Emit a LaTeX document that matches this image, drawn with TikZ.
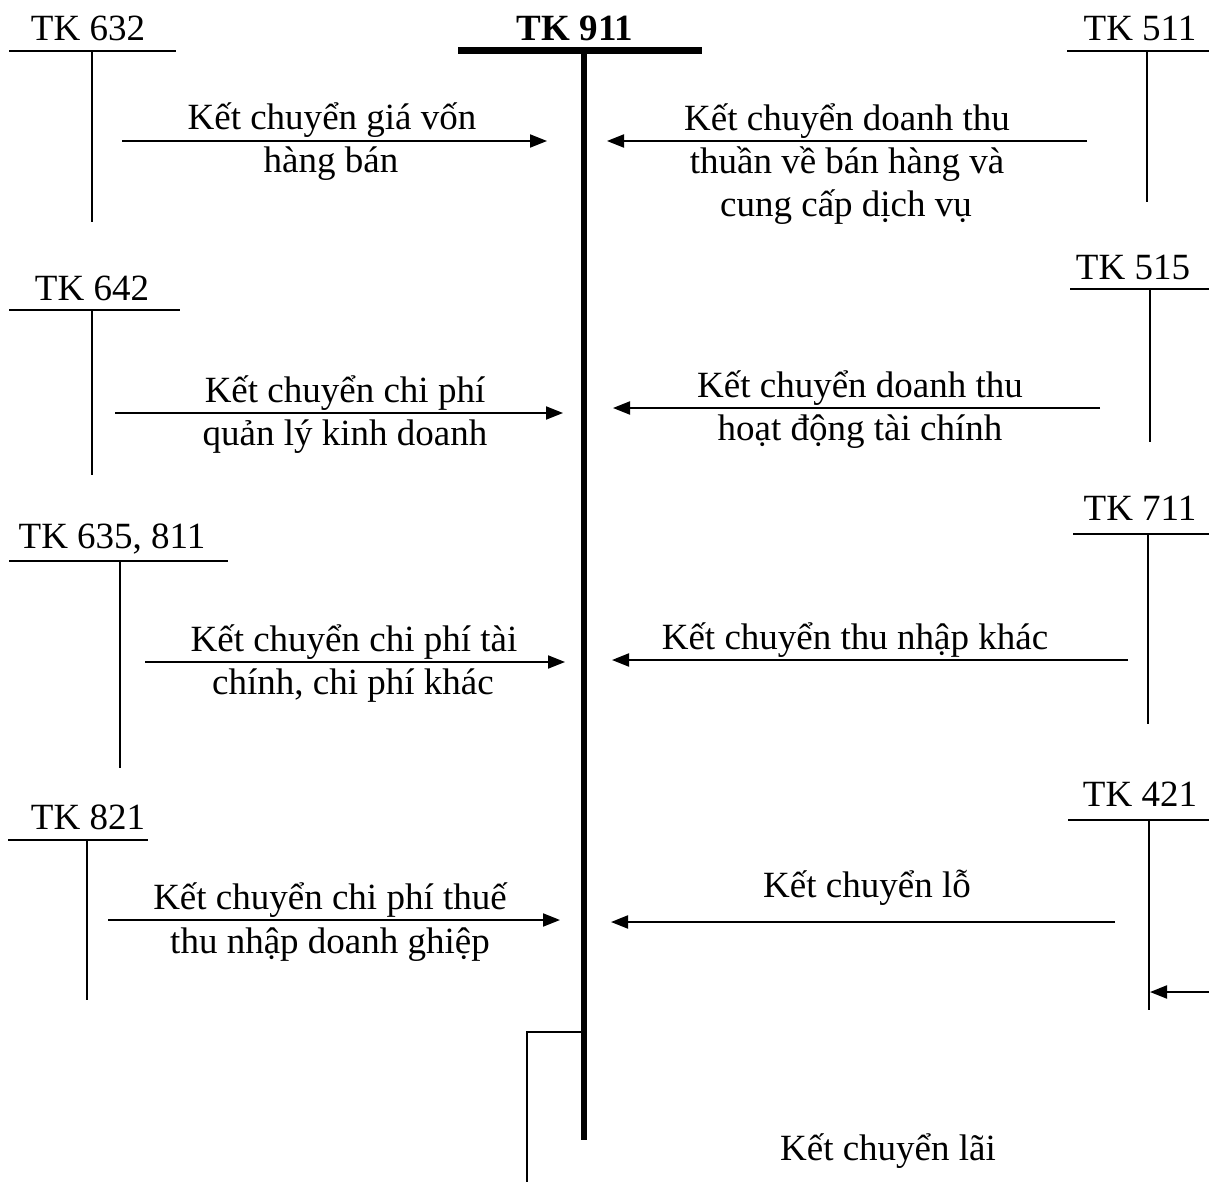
\documentclass[tikz,border=0pt]{standalone}
\usepackage{fontspec}
\setmainfont{Liberation Serif}
\usetikzlibrary{arrows.meta}
\begin{document}
\begin{tikzpicture}[x=1pt,y=-1pt,
  lbl/.style={font=\fontsize{37}{44}\selectfont, inner sep=0pt, anchor=base},
  acct/.style={line width=2pt},
  flow/.style={line width=2pt, -{Triangle[length=17pt,width=13pt]}},
  mainline/.style={line width=6.5pt}]
\useasboundingbox (0,0) rectangle (1209,1182);

% central account TK 911
\node[lbl] (t911) at (575,41) {\textbf{TK 911}};
\coordinate (m1) at (458,50.5);
\coordinate (m2) at (702,50.5);
\coordinate (mt) at (584,50.5);
\coordinate (mb) at (584,1140);
\draw[mainline] (m1) -- (m2);
\draw[mainline] (mt) -- (mb);

% T-accounts: label, top rule, vertical rule
\node[lbl] (t632) at (88,41) {TK 632};
\draw[acct] (9,51) coordinate (a1l) -- (176,51) coordinate (a1r);
\draw[acct] (92,51) coordinate (a1t) -- (92,222) coordinate (a1b);

\node[lbl] (t511) at (1140,41) {TK 511};
\draw[acct] (1067,51) coordinate (b1l) -- (1209,51) coordinate (b1r);
\draw[acct] (1147,51) coordinate (b1t) -- (1147,202) coordinate (b1b);

\node[lbl] (t642) at (92,300) {TK 642};
\draw[acct] (9,310) coordinate (a2l) -- (180,310) coordinate (a2r);
\draw[acct] (92,310) coordinate (a2t) -- (92,475) coordinate (a2b);

\node[lbl] (t515) at (1133,279) {TK 515};
\draw[acct] (1070,289) coordinate (b2l) -- (1209,289) coordinate (b2r);
\draw[acct] (1150,289) coordinate (b2t) -- (1150,442) coordinate (b2b);

\node[lbl] (t635) at (112,548) {TK 635, 811};
\draw[acct] (9,561) coordinate (a3l) -- (228,561) coordinate (a3r);
\draw[acct] (120,561) coordinate (a3t) -- (120,768) coordinate (a3b);

\node[lbl] (t711) at (1140,520) {TK 711};
\draw[acct] (1073,534) coordinate (b3l) -- (1209,534) coordinate (b3r);
\draw[acct] (1148,534) coordinate (b3t) -- (1148,724) coordinate (b3b);

\node[lbl] (t821) at (88,829) {TK 821};
\draw[acct] (8,840) coordinate (a4l) -- (148,840) coordinate (a4r);
\draw[acct] (87,840) coordinate (a4t) -- (87,1000) coordinate (a4b);

\node[lbl] (t421) at (1140,806) {TK 421};
\draw[acct] (1068,820) coordinate (b4l) -- (1209,820) coordinate (b4r);
\draw[acct] (1149,820) coordinate (b4t) -- (1149,1010) coordinate (b4b);

% transfers into TK 911 (debit side)
\coordinate (f1s) at (122,141);  \coordinate (f1e) at (547,141);
\draw[flow] (f1s) -- (f1e);
\node[lbl] (f1a) at (332,130) {Kết chuyển giá vốn};
\node[lbl] (f1b) at (331,173) {hàng bán};

\coordinate (f3s) at (115,413);  \coordinate (f3e) at (563,413);
\draw[flow] (f3s) -- (f3e);
\node[lbl] (f3a) at (345,402) {Kết chuyển chi phí};
\node[lbl] (f3b) at (345,445) {quản lý kinh doanh};

\coordinate (f5s) at (145,662);  \coordinate (f5e) at (565,662);
\draw[flow] (f5s) -- (f5e);
\node[lbl] (f5a) at (354,651) {Kết chuyển chi phí tài};
\node[lbl] (f5b) at (353,694) {chính, chi phí khác};

\coordinate (f7s) at (108,920);  \coordinate (f7e) at (560,920);
\draw[flow] (f7s) -- (f7e);
\node[lbl] (f7a) at (330,909) {Kết chuyển chi phí thuế};
\node[lbl] (f7b) at (330,953) {thu nhập doanh ghiệp};

% transfers into TK 911 (credit side)
\coordinate (f2s) at (1087,141); \coordinate (f2e) at (607,141);
\draw[flow] (f2s) -- (f2e);
\node[lbl] (f2a) at (847,131) {Kết chuyển doanh thu};
\node[lbl] (f2b) at (847,174) {thuần về bán hàng và};
\node[lbl] (f2c) at (846,217) {cung cấp dịch vụ};

\coordinate (f4s) at (1100,408); \coordinate (f4e) at (613,408);
\draw[flow] (f4s) -- (f4e);
\node[lbl] (f4a) at (860,397) {Kết chuyển doanh thu};
\node[lbl] (f4b) at (860,440) {hoạt động tài chính};

\coordinate (f6s) at (1128,660); \coordinate (f6e) at (612,660);
\draw[flow] (f6s) -- (f6e);
\node[lbl] (f6a) at (855,649) {Kết chuyển thu nhập khác};

\coordinate (f8s) at (1115,922); \coordinate (f8e) at (611,922);
\draw[flow] (f8s) -- (f8e);
\node[lbl] (f8a) at (867,897) {Kết chuyển lỗ};

% profit transfer
\coordinate (f9s) at (1209,992); \coordinate (f9e) at (1150,992);
\draw[flow] (f9s) -- (f9e);
\coordinate (p1) at (583,1032);
\coordinate (p2) at (527,1032);
\coordinate (p3) at (527,1182);
\draw[acct] (p1) -- (p2) -- (p3);
\node[lbl] (f9a) at (888,1160) {Kết chuyển lãi};
\end{tikzpicture}
\end{document}
